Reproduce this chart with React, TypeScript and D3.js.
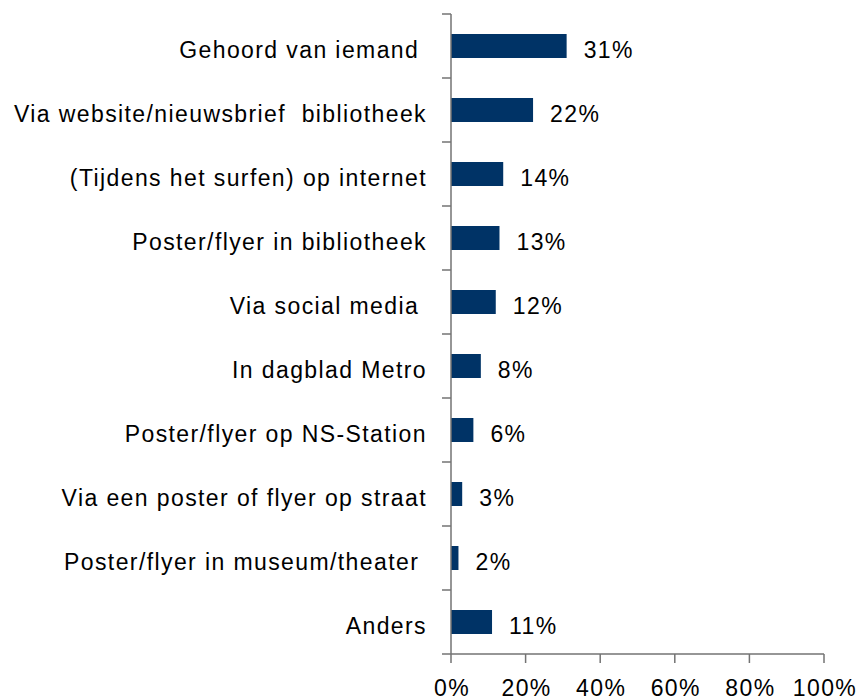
import React from "react";
import * as d3 from "d3";

const categories = [
  "Gehoord van iemand ",
  "Via website/nieuwsbrief  bibliotheek",
  "(Tijdens het surfen) op internet",
  "Poster/flyer in bibliotheek",
  "Via social media ",
  "In dagblad Metro",
  "Poster/flyer op NS-Station",
  "Via een poster of flyer op straat",
  "Poster/flyer in museum/theater ",
  "Anders",
];
const values = [31, 22, 14, 13, 12, 8, 6, 3, 2, 11];
const xTicks = [0, 20, 40, 60, 80, 100];

const W = 859;
const H = 700;
const left = 451;
const right = 824;
const top = 14;
const bottom = 654;
const FONT = "'Liberation Sans', Arial, sans-serif";
const AXIS = "#737373";
const BAR = "#003366";

export default function App() {
  const x = d3.scaleLinear().domain([0, 100]).range([left, right]);
  const y = d3
    .scaleBand<string>()
    .domain(categories)
    .range([top, bottom])
    .paddingInner(0.625)
    .paddingOuter(0.3125);
  const step = y.step();
  const boundaries = d3.range(categories.length + 1).map((i) => top + i * step);

  const textStyle: React.CSSProperties = {
    fontFamily: FONT,
    fontSize: 23,
    letterSpacing: "1.4px",
    whiteSpace: "pre",
  };

  return (
    <svg
      width={W}
      height={H}
      style={{ position: "absolute", left: 0, top: 0, background: "#fff" }}
    >
      {categories.map((c, i) => {
        const yy = y(c)!;
        const cy = yy + y.bandwidth() / 2;
        return (
          <g key={c}>
            <rect
              x={x(0)}
              y={yy}
              width={x(values[i]) - x(0)}
              height={y.bandwidth()}
              fill={BAR}
            />
            <text
              x={x(values[i]) + 17}
              y={cy + 11.5}
              style={textStyle}
              fill="#000"
            >
              {values[i] + "%"}
            </text>
            <text
              x={left - 24}
              y={cy + 11.5}
              textAnchor="end"
              style={textStyle}
              fill="#000"
            >
              {c}
            </text>
          </g>
        );
      })}
      {/* y axis */}
      <line x1={left} x2={left} y1={top} y2={bottom} stroke={AXIS} strokeWidth={1.5} />
      {boundaries.map((b, i) => (
        <line key={i} x1={left - 9} x2={left} y1={b} y2={b} stroke={AXIS} strokeWidth={1.5} />
      ))}
      {/* x axis */}
      <line x1={left} x2={right} y1={bottom} y2={bottom} stroke={AXIS} strokeWidth={1.5} />
      {xTicks.map((t) => (
        <g key={t}>
          <line x1={x(t)} x2={x(t)} y1={bottom} y2={bottom + 9} stroke={AXIS} strokeWidth={1.5} />
          <text
            x={x(t) + 1}
            y={696}
            textAnchor="middle"
            style={textStyle}
            fill="#000"
          >
            {t + "%"}
          </text>
        </g>
      ))}
    </svg>
  );
}
